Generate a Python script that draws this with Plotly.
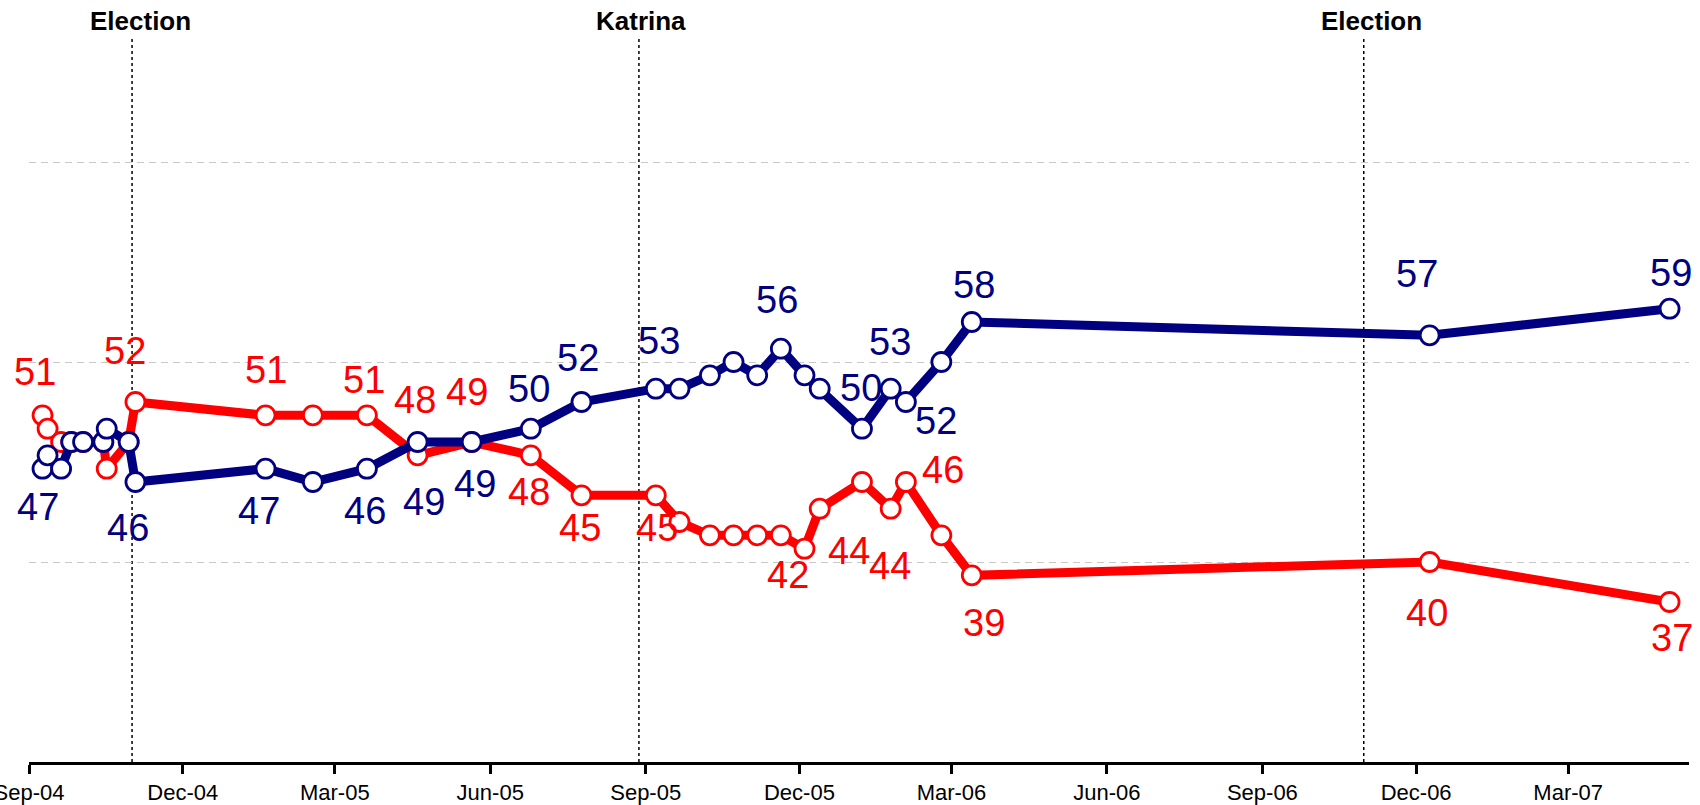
import plotly.graph_objects as go

# ---------------- data ----------------
poll_dates = [
    "2004-09-09", "2004-09-12", "2004-09-20", "2004-09-26", "2004-10-03",
    "2004-10-15", "2004-10-17", "2004-10-30", "2004-11-03",
    "2005-01-19", "2005-02-16", "2005-03-20", "2005-04-19", "2005-05-21",
    "2005-06-25", "2005-07-25", "2005-09-07", "2005-09-21", "2005-10-09",
    "2005-10-23", "2005-11-06", "2005-11-20", "2005-12-04", "2005-12-13",
    "2006-01-07", "2006-01-24", "2006-02-02", "2006-02-23", "2006-03-13",
    "2006-12-09", "2007-04-30",
]
approve = [51, 50, 49, 49, 49, 49, 47, 49, 52,
           51, 51, 51, 48, 49, 48, 45, 45, 43, 42, 42, 42, 42, 41, 44,
           46, 44, 46, 42, 39, 40, 37]
disapprove = [47, 48, 47, 49, 49, 49, 50, 49, 46,
              47, 46, 47, 49, 49, 50, 52, 53, 53, 54, 55, 54, 56, 54, 53,
              50, 53, 52, 55, 58, 57, 59]

# value labels shown on the chart (point index -> text)
approve_label_idx = [0, 8, 9, 11, 12, 13, 14, 15, 16, 21, 23, 25, 26, 28, 29, 30]
approve_label_txt = ["51", "52", "51", "51", "48", "49", "48", "45", "45",
                     "42", "44", "44", "46", "39", "40", "37"]
disapprove_label_idx = [0, 8, 9, 11, 12, 13, 14, 15, 16, 21, 24, 25, 26, 28, 29, 30]
disapprove_label_txt = ["47", "46", "47", "46", "49", "49", "50", "52", "53",
                        "56", "50", "53", "52", "58", "57", "59"]

tick_dates = ["2004-09-01", "2004-12-01", "2005-03-01", "2005-06-01",
              "2005-09-01", "2005-12-01", "2006-03-01", "2006-06-01",
              "2006-09-01", "2006-12-01", "2007-03-01"]
tick_labels = ["Sep-04", "Dec-04", "Mar-05", "Jun-05", "Sep-05", "Dec-05",
               "Mar-06", "Jun-06", "Sep-06", "Dec-06", "Mar-07"]

event_names = ["Election", "Katrina", "Election"]
event_dates = ["2004-11-01", "2005-08-28", "2006-10-31"]

# ---------------- styling (label offsets in px, +dy = down) ----------------
approve_offsets = [(-8, -43), (-10, -51), (0, -45), (-3, -35), (-3, -55), (-5, -50),
                   (-2, 37), (-1, 33), (1, 33), (7, 40), (29, 42), (-1, 57),
                   (37, -12), (12, 48), (-3, 51), (2, 36)]
disapprove_offsets = [(-5, 38), (-7, 46), (-7, 42), (-2, 42), (6, 60), (3, 42),
                      (-2, -40), (-3, -44), (3, -48), (-4, -49), (-1, -41), (-1, -47),
                      (30, 19), (2, -37), (-13, -61), (1, -36)]
event_xshift = [8, 2, 8]

RED = "#FF0000"
BLUE = "#000080"
FONT = "Arial, Liberation Sans, sans-serif"
LABEL_SIZE = 38

fig = go.Figure()
fig.add_trace(go.Scatter(
    x=poll_dates, y=approve, mode="lines+markers", name="Approve",
    line=dict(color=RED, width=9),
    marker=dict(symbol="circle", size=19, color="white", line=dict(color=RED, width=2.8)),
    cliponaxis=False, hoverinfo="x+y",
))
fig.add_trace(go.Scatter(
    x=poll_dates, y=disapprove, mode="lines+markers", name="Disapprove",
    line=dict(color=BLUE, width=9),
    marker=dict(symbol="circle", size=19, color="white", line=dict(color=BLUE, width=2.8)),
    cliponaxis=False, hoverinfo="x+y",
))

annotations = []
for i, t, (dx, dy) in zip(approve_label_idx, approve_label_txt, approve_offsets):
    annotations.append(dict(x=poll_dates[i], y=approve[i], xref="x", yref="y",
                            text=t, showarrow=False, xshift=dx, yshift=-dy,
                            font=dict(family=FONT, size=LABEL_SIZE, color=RED)))
for i, t, (dx, dy) in zip(disapprove_label_idx, disapprove_label_txt, disapprove_offsets):
    annotations.append(dict(x=poll_dates[i], y=disapprove[i], xref="x", yref="y",
                            text=t, showarrow=False, xshift=dx, yshift=-dy,
                            font=dict(family=FONT, size=LABEL_SIZE, color=BLUE)))

PLOT_H = 762
shapes = []
for name, d, xs in zip(event_names, event_dates, event_xshift):
    shapes.append(dict(type="line", xref="x", yref="paper", x0=d, x1=d,
                       y0=0, y1=(PLOT_H - 37) / PLOT_H,
                       line=dict(color="black", width=1.5, dash="dot"), layer="below"))
    annotations.append(dict(x=d, y=(PLOT_H - 21) / PLOT_H, xref="x", yref="paper",
                            text="<b>%s</b>" % name, showarrow=False, xshift=xs,
                            yanchor="middle",
                            font=dict(family=FONT, size=26, color="black")))

fig.update_layout(
    width=1700, height=805,
    margin=dict(l=29, r=11, t=0, b=43, autoexpand=False),
    paper_bgcolor="white", plot_bgcolor="white",
    showlegend=False,
    annotations=annotations, shapes=shapes,
    xaxis=dict(
        type="date", automargin=False,
        range=["2004-09-01", "2007-05-11 12:00"],
        tickvals=tick_dates, ticktext=tick_labels,
        ticks="outside", ticklen=9, tickwidth=2.5, tickcolor="black",
        showline=True, linecolor="black", linewidth=3,
        showgrid=False, zeroline=False,
        ticklabeloverflow="allow", ticklabelstandoff=0,
        tickfont=dict(family=FONT, size=22, color="black"),
    ),
    yaxis=dict(
        automargin=False,
        range=[25, 25 + PLOT_H / 13.333],
        tickvals=[40, 55, 70], showticklabels=False,
        showgrid=True, gridcolor="#C8C8C8", gridwidth=1, griddash="7px,5px",
        zeroline=False, showline=False, ticks="",
    ),
)

fig.write_html(
    "out.html",
    config={"displayModeBar": False},
    post_script="document.body.style.margin='0';document.body.style.padding='0';"
                "document.body.style.overflow='hidden';",
)
